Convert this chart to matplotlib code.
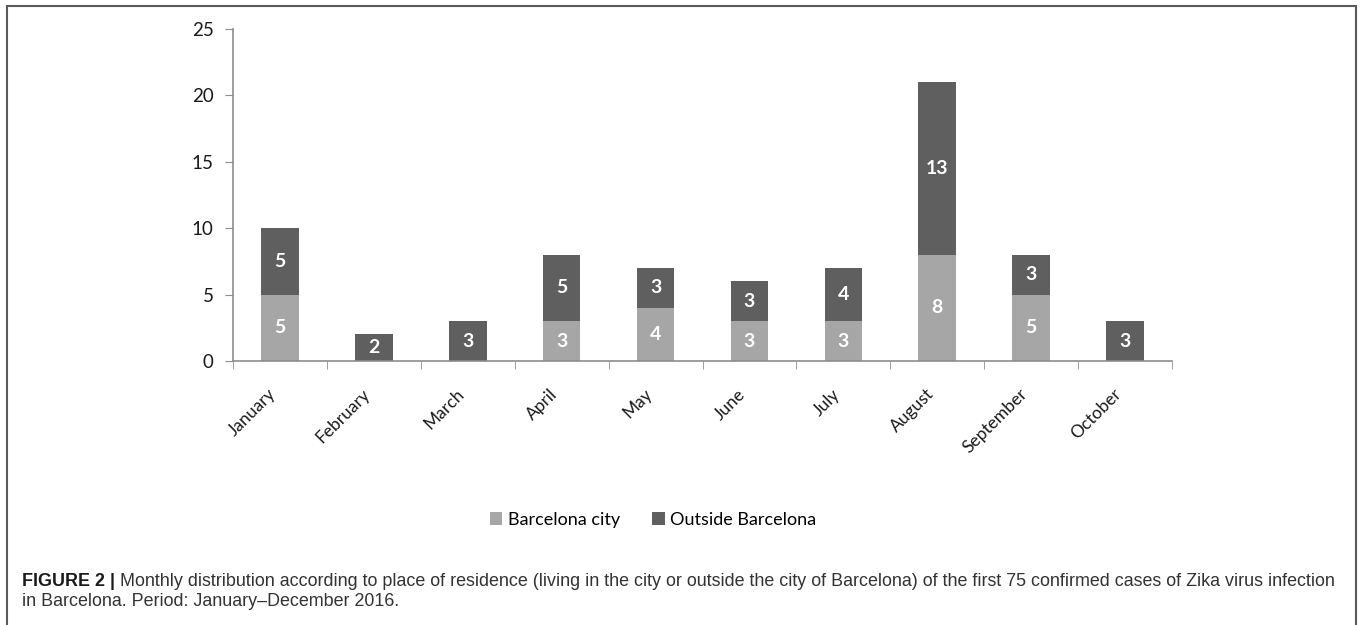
import matplotlib
matplotlib.use('Agg')
from matplotlib import pyplot as plt
from matplotlib.patches import Rectangle
from matplotlib.transforms import ScaledTranslation
import numpy as np

months = ['January', 'February', 'March', 'April', 'May', 'June',
	'July', 'August', 'September', 'October']
barcelona_city = [5, 0, 0, 3, 4, 3, 3, 8, 5, 0]
outside_barcelona = [5, 2, 3, 5, 3, 3, 4, 13, 3, 3]
y_ticks = [0, 5, 10, 15, 20, 25]

light = '#a6a6a6'
dark = '#5f5f5f'
axis_grey = '#8c8c8c'
chart_font = 'Lato'

fig = plt.figure(figsize=(13.6, 6.25), dpi=100)
ax = fig.add_axes([233 / 1360, 1 - 361 / 625, 939 / 1360, 332 / 625])

x = np.arange(len(months))
b1 = ax.bar(x, barcelona_city, width=0.4, color=light, label='Barcelona city')
b2 = ax.bar(x, outside_barcelona, width=0.4, bottom=barcelona_city,
	color=dark, label='Outside Barcelona')

# value labels, skip empty segments
for bars, vals in ((b1, barcelona_city), (b2, outside_barcelona)):
	for rect, v in zip(bars, vals):
		if v == 0:
			continue
		ax.text(rect.get_x() + rect.get_width() / 2,
			rect.get_y() + rect.get_height() / 2, str(v),
			ha='center', va='center', color='white', fontsize=14,
			fontweight='bold', family=chart_font)

ax.set_xlim(-0.5, len(months) - 0.5)
ax.set_ylim(0, 25)
ax.set_yticks(y_ticks)
ax.set_yticklabels([str(t) for t in y_ticks], family=chart_font, fontsize=13.5,
	color='#1a1a1a')
ax.set_xticks(x)
ax.set_xticklabels(months, rotation=45, ha='right', rotation_mode='anchor',
	family=chart_font, fontsize=12.5, color='#1a1a1a')
ax.set_xticks(np.arange(-0.5, len(months)), minor=True)
ax.tick_params(axis='x', which='major', length=0, pad=18)
ax.tick_params(axis='x', which='minor', length=6, color=axis_grey)
ax.tick_params(axis='y', length=6, color=axis_grey, pad=8)

# nudge month labels left like the original
shift = ScaledTranslation(-12 / 100, 0, fig.dpi_scale_trans)
for lbl in ax.get_xticklabels():
	lbl.set_transform(lbl.get_transform() + shift)

for s in ('top', 'right'):
	ax.spines[s].set_visible(False)
for s in ('left', 'bottom'):
	ax.spines[s].set_color(axis_grey)
	ax.spines[s].set_linewidth(1.2)

fig.legend(handles=[b1, b2], loc='center', ncol=2,
	bbox_to_anchor=(653 / 1360, 1 - 520 / 625), frameon=False,
	prop={'family': chart_font, 'size': 13}, handlelength=0.7,
	handleheight=0.7, handletextpad=0.3, columnspacing=1.8)

# outer frame
fig.patches.append(Rectangle((7 / 1360, -0.05), 1349 / 1360, 1.05 - 6 / 625,
	transform=fig.transFigure, fill=False, edgecolor='#5a5a5a', linewidth=1.5))

cap_font = 'Liberation Sans'
cap_size = 12.85
bold = fig.text(22 / 1360, 1 - 586 / 625, 'FIGURE 2 |', fontsize=cap_size,
	fontweight='bold', family=cap_font, color='#1a1a1a', va='baseline')
fig.canvas.draw()
bb = bold.get_window_extent()
fig.text((bb.x1 + 5) / 1360, 1 - 586 / 625,
	'Monthly distribution according to place of residence (living in the city '
	'or outside the city of Barcelona) of the first 75 confirmed cases of Zika '
	'virus infection', fontsize=cap_size, family=cap_font, color='#333333',
	va='baseline')
fig.text(22 / 1360, 1 - 606 / 625,
	'in Barcelona. Period: January\u2013December 2016.', fontsize=cap_size,
	family=cap_font, color='#333333', va='baseline')

fig.savefig('out.png', dpi=100)
